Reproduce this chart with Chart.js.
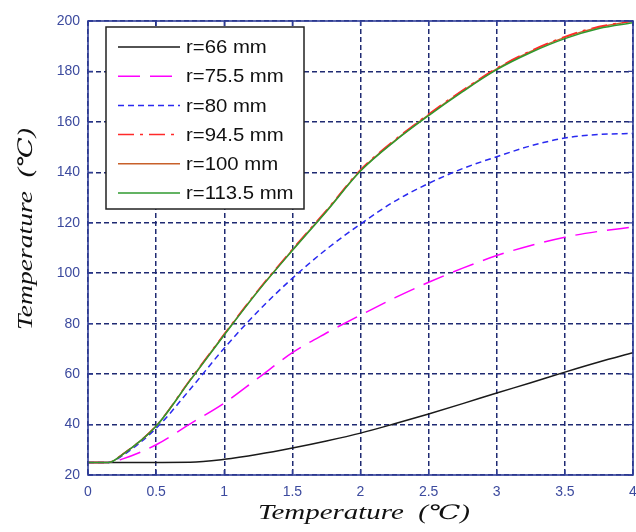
<!DOCTYPE html>
<html>
<head>
<meta charset="utf-8">
<title>Temperature curves</title>
<script src="https://cdn.jsdelivr.net/npm/chart.js@4/dist/chart.umd.min.js"></script>
<style>
  html, body { margin: 0; padding: 0; background: #ffffff; }
  canvas { display: block; }
</style>
</head>
<body>
<canvas id="chart" width="636" height="532"></canvas>
<script>
// Sample positions along the horizontal axis
const xValues = [0, 0.15, 0.25, 0.5, 0.75, 1, 1.25, 1.5, 1.75, 2, 2.25, 2.5, 2.75, 3, 3.25, 3.5, 3.75, 4];

// Temperature curves for each radius
const r66   = [25, 25, 25, 25, 25.05, 26.2, 28.2, 30.7, 33.5, 36.6, 40.3, 44.2, 48.3, 52.5, 56.6, 60.8, 64.8, 68.5];
const r75_5 = [25, 25, 26.3, 32, 40.3, 48.5, 58.5, 68.5, 76.3, 83.4, 90.2, 96.4, 102, 107, 111, 114.3, 116.6, 118.3];
const r80   = [25, 25, 27.6, 38.5, 54, 70.3, 85, 98, 109.5, 119.5, 128.5, 135.6, 141.5, 146.2, 150.5, 153.6, 155, 155.4];
const r94_5 = [25, 25, 28.1, 39.5, 57.8, 75.9, 93.4, 109.5, 125, 141, 152.8, 163.1, 172.6, 181.3, 188.2, 193.8, 197.8, 200];
const r100  = [25, 25, 28, 39.4, 57.6, 75.7, 93.2, 109.2, 124.7, 140.7, 152.5, 162.8, 172.3, 181, 187.9, 193.5, 197.5, 200];
const r113_5 = [25, 25, 28, 39.3, 57.5, 75.5, 93, 109, 124.5, 140.5, 152.3, 162.5, 172, 180.7, 187.5, 193, 197, 199.3];

// Legend labels and axis ticks
const seriesLabels = ['r=66 mm', 'r=75.5 mm', 'r=80 mm', 'r=94.5 mm', 'r=100 mm', 'r=113.5 mm'];
const xTicks = [0, 0.5, 1, 1.5, 2, 2.5, 3, 3.5, 4];
const yTicks = [20, 40, 60, 80, 100, 120, 140, 160, 180, 200];
const xTitle = 'Temperature  (\u2103)';
const yTitle = 'Temperature  (\u2103)';

const AXIS_COLOR = '#2f3d98';
const GRID_COLOR = '#1f2a72';
const TICK_LABEL_COLOR = '#3c4a9e';

function pts(ys) {
  return xValues.map((x, i) => ({ x: x, y: ys[i] }));
}

const styles = [
  { color: '#1a1a1a', dash: [], order: 6 },
  { color: '#ff00ff', dash: [22, 10], order: 5 },
  { color: '#2a2af0', dash: [6, 4], order: 4 },
  { color: '#ff2a2a', dash: [16, 6, 3, 6], order: 2 },
  { color: '#c8602a', dash: [], order: 3 },
  { color: '#2f9a2f', dash: [], order: 1 }
];
const seriesData = [r66, r75_5, r80, r94_5, r100, r113_5];

const datasets = seriesData.map((ys, i) => ({
  label: seriesLabels[i],
  data: pts(ys),
  borderColor: styles[i].color,
  backgroundColor: styles[i].color,
  borderDash: styles[i].dash,
  borderWidth: 1.5,
  pointRadius: 0,
  fill: false,
  cubicInterpolationMode: 'monotone',
  order: styles[i].order
}));

// Box frame, inward ticks, inset legend and stretched serif axis titles
const framePlugin = {
  id: 'frame',
  afterDraw(chart) {
    const ctx = chart.ctx;
    const a = chart.chartArea;
    const xs = chart.scales.x, ys = chart.scales.y;
    ctx.save();

    // frame
    ctx.strokeStyle = AXIS_COLOR;
    ctx.lineWidth = 1.6;
    ctx.setLineDash([]);
    ctx.strokeRect(a.left, a.top, a.right - a.left, a.bottom - a.top);

    // inward tick marks on all four sides
    ctx.lineWidth = 1.3;
    ctx.beginPath();
    xTicks.forEach(v => {
      const px = xs.getPixelForValue(v);
      ctx.moveTo(px, a.bottom); ctx.lineTo(px, a.bottom - 5);
      ctx.moveTo(px, a.top); ctx.lineTo(px, a.top + 5);
    });
    yTicks.forEach(v => {
      const py = ys.getPixelForValue(v);
      ctx.moveTo(a.left, py); ctx.lineTo(a.left + 5, py);
      ctx.moveTo(a.right, py); ctx.lineTo(a.right - 5, py);
    });
    ctx.stroke();

    // legend box
    const lx = 106, ly = 27, lw = 198, lh = 182;
    ctx.fillStyle = '#ffffff';
    ctx.fillRect(lx, ly, lw, lh);
    ctx.strokeStyle = '#222222';
    ctx.lineWidth = 1.5;
    ctx.strokeRect(lx, ly, lw, lh);
    ctx.font = '19px "Liberation Sans", Arial, sans-serif';
    ctx.textBaseline = 'middle';
    ctx.textAlign = 'left';
    chart.data.datasets.forEach((ds, i) => {
      const cy = 47 + i * 29.2;
      ctx.strokeStyle = ds.borderColor;
      ctx.lineWidth = 1.5;
      ctx.setLineDash(ds.borderDash);
      ctx.beginPath();
      ctx.moveTo(118, cy);
      ctx.lineTo(180, cy);
      ctx.stroke();
      ctx.setLineDash([]);
      ctx.fillStyle = '#111111';
      ctx.save();
      ctx.translate(186, cy + 1);
      ctx.scale(1.07, 1);
      ctx.fillText(ds.label, 0, 0);
      ctx.restore();
    });

    // axis titles
    ctx.fillStyle = '#111111';
    ctx.font = 'italic 20px "Liberation Serif", "DejaVu Serif", serif';
    ctx.textAlign = 'center';
    ctx.textBaseline = 'middle';

    const xw = ctx.measureText(xTitle).width;
    ctx.save();
    ctx.translate(364, 514);
    ctx.scale(212 / xw, 1);
    ctx.fillText(xTitle, 0, 0);
    ctx.restore();

    const yw = ctx.measureText(yTitle).width;
    ctx.save();
    ctx.translate(27, 229);
    ctx.rotate(-Math.PI / 2);
    ctx.scale(202 / yw, 1);
    ctx.fillText(yTitle, 0, 0);
    ctx.restore();

    ctx.restore();
  }
};

const tickFont = { family: '"Liberation Sans", Arial, sans-serif', size: 14 };

new Chart(document.getElementById('chart'), {
  type: 'line',
  data: { datasets: datasets },
  options: {
    responsive: false,
    devicePixelRatio: 1,
    animation: false,
    events: [],
    layout: { padding: { top: 21, right: 3, left: 0, bottom: 0 } },
    plugins: {
      legend: { display: false },
      tooltip: { enabled: false },
      title: { display: false }
    },
    scales: {
      x: {
        type: 'linear',
        min: 0,
        max: 4,
        afterBuildTicks: s => { s.ticks = xTicks.map(v => ({ value: v })); },
        afterFit: s => { s.height = 57; s.paddingLeft = 0; s.paddingRight = 0; },
        border: { display: false, dash: [5, 3] },
        grid: {
          color: GRID_COLOR,
          lineWidth: 1.5,
          drawTicks: false,
          tickLength: 0
        },
        ticks: {
          padding: 9,
          maxRotation: 0,
          autoSkip: false,
          color: TICK_LABEL_COLOR,
          font: tickFont,
          callback: v => String(v)
        }
      },
      y: {
        type: 'linear',
        min: 20,
        max: 200,
        afterBuildTicks: s => { s.ticks = yTicks.map(v => ({ value: v })); },
        afterFit: s => { s.width = 88; s.paddingTop = 0; s.paddingBottom = 0; },
        border: { display: false, dash: [5, 3] },
        grid: {
          color: GRID_COLOR,
          lineWidth: 1.5,
          drawTicks: false,
          tickLength: 0
        },
        ticks: {
          padding: 8,
          autoSkip: false,
          color: TICK_LABEL_COLOR,
          font: tickFont,
          callback: v => String(v)
        }
      }
    }
  },
  plugins: [framePlugin]
});
</script>
</body>
</html>
